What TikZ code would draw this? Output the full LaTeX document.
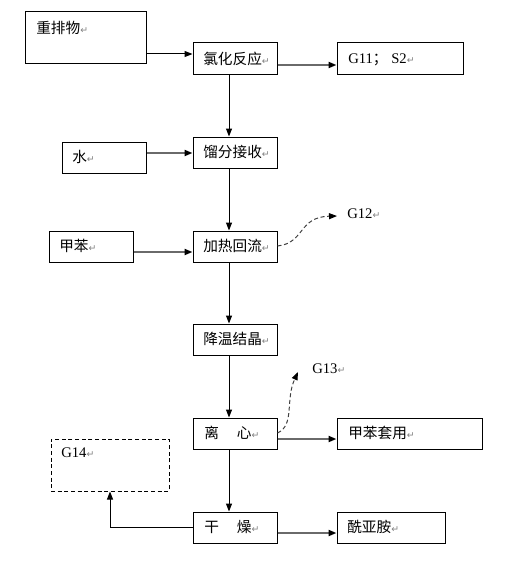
\documentclass[tikz,border=0pt]{standalone}
\usepackage{fontspec}
\setmainfont{Liberation Serif}
\newfontfamily\cjk{Noto Sans CJK SC}
\newfontfamily\sym{DejaVu Sans}
\usetikzlibrary{fit,arrows.meta}
\newcommand{\parmark}{{\sym\fontsize{7}{8}\selectfont\textcolor{gray}{↵}}}
\definecolor{linegray}{HTML}{6A6A6A}
\definecolor{dashgray}{HTML}{404040}
\tikzset{
  box/.style={draw=black,line width=0.75pt,inner sep=0pt},
  dbox/.style={draw=black,line width=0.75pt,inner sep=0pt,dash pattern=on 3pt off 2pt},
  txt/.style={anchor=west,inner sep=0pt,font=\fontsize{11}{13}\selectfont},
  tip/.style={-{Triangle[length=6pt,width=4.5pt,color=black]}},
  blk/.style={tip,draw=black,line width=0.75pt},
  gry/.style={tip,draw=linegray,line width=1.6pt},
  dsh/.style={tip,draw=dashgray,line width=0.75pt,dash pattern=on 3pt off 2pt},
}
\begin{document}
\begin{tikzpicture}[x=0.75pt,y=-0.75pt]
\useasboundingbox (0,0) rectangle (506,567);
% boxes
\node[box,fit={(25,12) (146,64)}] (zpw) {};
\node[box,fit={(193,43) (277,75)}] (lhfy) {};
\node[box,fit={(337,43) (463,75)}] (g11) {};
\node[box,fit={(62,142) (146,173)}] (shui) {};
\node[box,fit={(193,137) (277,168)}] (lfjs) {};
\node[box,fit={(49,231) (133,262)}] (jb) {};
\node[box,fit={(193,231) (277,262)}] (jrhl) {};
\node[box,fit={(193,324) (277,355)}] (jwjj) {};
\node[box,fit={(193,418) (277,449)}] (lx) {};
\node[box,fit={(337,418) (482,449)}] (jbty) {};
\node[dbox,fit={(51,439) (169,491)}] (g14) {};
\node[box,fit={(193,512) (277,543)}] (gz) {};
\node[box,fit={(337,512) (445,543)}] (xya) {};
% texts
\node[txt] at (36,28) {\cjk 重排物\parmark};
\node[txt] at (203,59) {\cjk 氯化反应\parmark};
\node[txt] at (348,60) {G11{\cjk ；}\ S2\parmark};
\node[txt] at (72,157) {\cjk 水\parmark};
\node[txt] at (203,152) {\cjk 馏分接收\parmark};
\node[txt] at (59,246) {\cjk 甲苯\parmark};
\node[txt] at (203,246) {\cjk 加热回流\parmark};
\node[txt] at (203,339) {\cjk 降温结晶\parmark};
\node[txt] at (204,433) {\cjk 离\hspace{13.5pt}心\parmark};
\node[txt] at (348,433) {\cjk 甲苯套用\parmark};
\node[txt] at (61,453) {G14\parmark};
\node[txt] at (204,527) {\cjk 干\hspace{13.5pt}燥\parmark};
\node[txt] at (347,527) {\cjk 酰亚胺\parmark};
\node[txt] (t12) at (347,214) {G12\parmark};
\node[txt] (t13) at (312,369) {G13\parmark};
% connectors
\coordinate (c12) at (337,216);
\coordinate (c13) at (298,372);
\draw[blk] (zpw.east |- 0,54) -- (lhfy.west |- 0,54);
\draw[gry] (lhfy.east |- 0,65) -- (g11.west |- 0,65);
\draw[blk] (lhfy.south -| 229,0) -- (lfjs.north -| 229,0);
\draw[gry] (shui.east |- 0,153) -- (lfjs.west |- 0,153);
\draw[blk] (lfjs.south -| 229,0) -- (jrhl.north -| 229,0);
\draw[gry] (jb.east |- 0,252) -- (jrhl.west |- 0,252);
\draw[dsh] (jrhl.east |- 0,246) .. controls (305,243) and (298,217) .. (c12);
\draw[blk] (jrhl.south -| 229,0) -- (jwjj.north -| 229,0);
\draw[blk] (jwjj.south -| 229,0) -- (lx.north -| 229,0);
\draw[dsh] (lx.east |- 0,433) .. controls (295,425) and (285,400) .. (c13);
\draw[gry] (lx.east |- 0,439) -- (jbty.west |- 0,439);
\draw[blk] (lx.south -| 229,0) -- (gz.north -| 229,0);
\draw[gry] (gz.east |- 0,533) -- (xya.west |- 0,533);
\draw[blk] (gz.west |- 0,527) -| (g14.south -| 110,0);
\end{tikzpicture}
\end{document}
